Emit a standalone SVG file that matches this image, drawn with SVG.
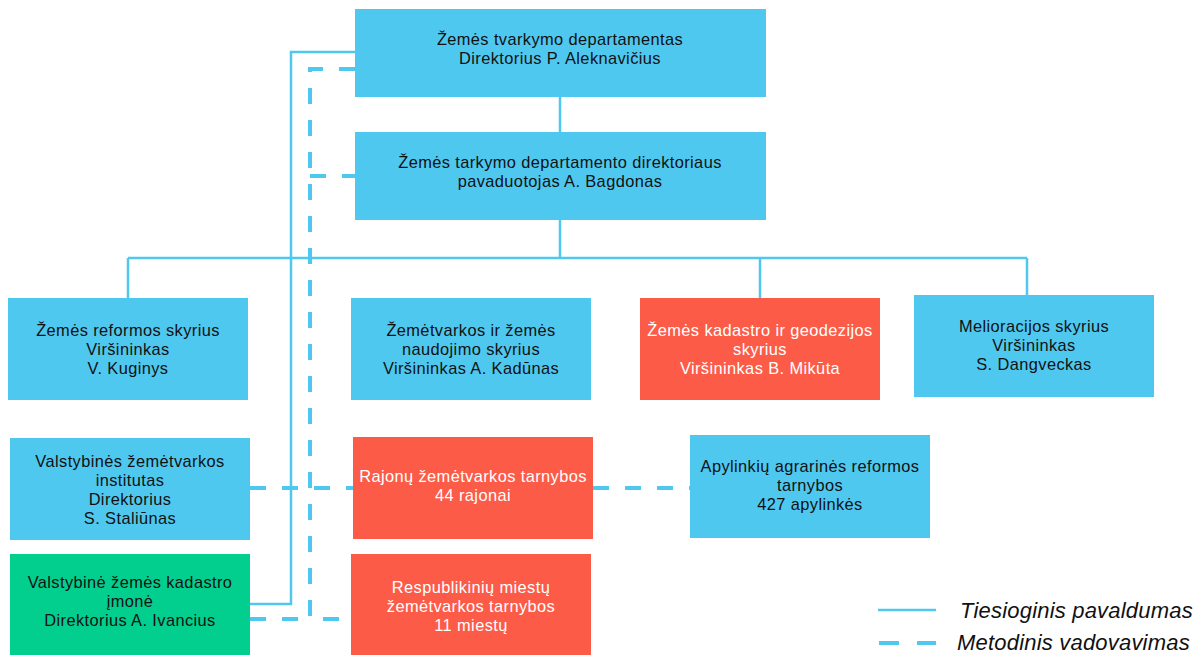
<svg xmlns="http://www.w3.org/2000/svg" width="1203" height="655" viewBox="0 0 1203 655">
<style>
.b{fill:#4FC8F0}
.r{fill:#FC5B48}
.g{fill:#02CF8E}
text{font-family:"Liberation Sans",Arial,sans-serif;font-size:16.4px;letter-spacing:0.4px;text-anchor:middle;fill:#111}
.w{fill:#fff}
.sol{fill:none;stroke:#4FC8F0;stroke-width:2.5}
.dash{fill:none;stroke:#4FC8F0;stroke-width:4;stroke-dasharray:16 16}
.leg{font-size:22px;letter-spacing:0.2px;font-style:italic;text-anchor:start;fill:#111}
</style>
<rect width="1203" height="655" fill="#fff"/>
<g id="connectors">
<path class="sol" d="M560 97V132M560 220V258M128 258H1027M128 258V298M760 258V298M1027 258V295"/>
<path class="sol" d="M355 52H291V604H250"/>
<path class="dash" d="M355 69H310V619H352"/>
<path class="dash" d="M310 176H355"/>
<path class="dash" d="M250 619H310"/>
<path class="dash" d="M250 488H353"/>
<path class="dash" d="M593 488H690"/>
</g>
<g id="n1"><rect class="b" x="355" y="9" width="411" height="88"/>
<text x="560" y="45">Žemės tvarkymo departamentas</text><text x="560" y="64">Direktorius P. Aleknavičius</text></g>
<g id="n2"><rect class="b" x="355" y="132" width="411" height="88"/>
<text x="560" y="168">Žemės tarkymo departamento direktoriaus</text><text x="560" y="187">pavaduotojas A. Bagdonas</text></g>
<g id="n3"><rect class="b" x="8" y="298" width="240" height="102"/>
<text x="128" y="336">Žemės reformos skyrius</text><text x="128" y="355">Viršininkas</text><text x="128" y="374">V. Kuginys</text></g>
<g id="n4"><rect class="b" x="351" y="298" width="240" height="102"/>
<text x="471" y="336">Žemėtvarkos ir žemės</text><text x="471" y="355">naudojimo skyrius</text><text x="471" y="374">Viršininkas A. Kadūnas</text></g>
<g id="n5"><rect class="r" x="640" y="298" width="240" height="102"/>
<text class="w" x="760" y="336">Žemės kadastro ir geodezijos</text><text class="w" x="760" y="355">skyrius</text><text class="w" x="760" y="374">Viršininkas B. Mikūta</text></g>
<g id="n6"><rect class="b" x="914" y="295" width="240" height="102"/>
<text x="1034" y="332">Melioracijos skyrius</text><text x="1034" y="351">Viršininkas</text><text x="1034" y="370">S. Dangveckas</text></g>
<g id="n7"><rect class="b" x="10" y="438" width="240" height="102"/>
<text x="130" y="467">Valstybinės žemėtvarkos</text><text x="130" y="486">institutas</text><text x="130" y="505">Direktorius</text><text x="130" y="524">S. Staliūnas</text></g>
<g id="n8"><rect class="r" x="353" y="437" width="240" height="102"/>
<text class="w" x="473" y="482">Rajonų žemėtvarkos tarnybos</text><text class="w" x="473" y="501">44 rajonai</text></g>
<g id="n9"><rect class="b" x="690" y="435" width="240" height="103"/>
<text x="810" y="472">Apylinkių agrarinės reformos</text><text x="810" y="491">tarnybos</text><text x="810" y="510">427 apylinkės</text></g>
<g id="n10"><rect class="g" x="10" y="554" width="240" height="101"/>
<text x="130" y="588">Valstybinė žemės kadastro</text><text x="130" y="607">įmonė</text><text x="130" y="626">Direktorius A. Ivancius</text></g>
<g id="n11"><rect class="r" x="351" y="554" width="240" height="101"/>
<text class="w" x="471" y="593">Respublikinių miestų</text><text class="w" x="471" y="612">žemėtvarkos tarnybos</text><text class="w" x="471" y="631">11 miestų</text></g>
<g id="legend">
<path class="sol" d="M878 610H936"/>
<path d="M879 643H899M917 643H936" stroke="#4FC8F0" stroke-width="4" fill="none"/>
<text class="leg" x="960" y="618">Tiesioginis pavaldumas</text>
<text class="leg" x="957" y="650">Metodinis vadovavimas</text>
</g>
</svg>
